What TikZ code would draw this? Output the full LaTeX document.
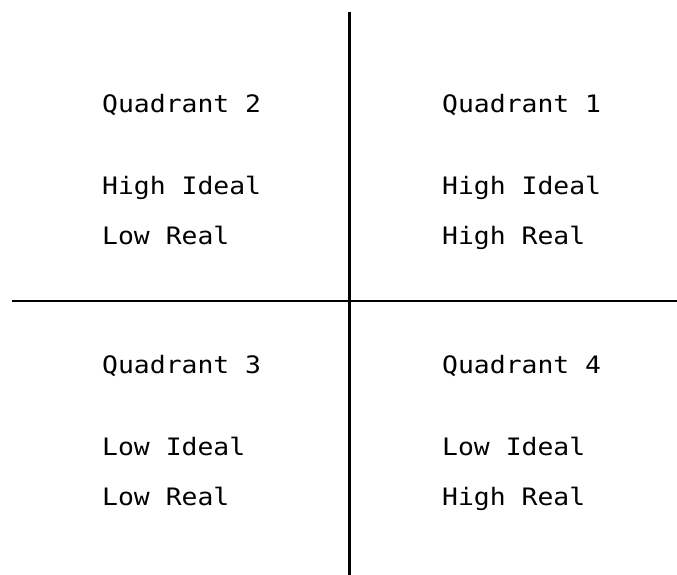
\documentclass[tikz,border=0pt]{standalone}
\usepackage{fontspec}
\newfontfamily\typewriter[FakeStretch=1.1]{DejaVu Sans Mono}

\begin{document}
\begin{tikzpicture}[x=1pt, y=-1pt,
    quadtext/.style={anchor=base west, inner sep=0pt, font=\typewriter\fontsize{24}{29}\selectfont},
    axisline/.style={black, line width=2.2pt}]
  \useasboundingbox (0,0) rectangle (677,575);

  % Axes
  \coordinate (top) at (349,12);
  \coordinate (bottom) at (349,575);
  \coordinate (left) at (12,301);
  \coordinate (right) at (677,301);
  \draw[axisline] (left) -- (right);
  \draw[axisline, line width=3pt] (top) -- (bottom);

  % Upper left
  \node[quadtext] (q2) at (102,113) {Quadrant 2};
  \node[quadtext] (q2ideal) at (102,194) {High Ideal};
  \node[quadtext] (q2real) at (102,244) {Low Real};

  % Upper right
  \node[quadtext] (q1) at (442,113) {Quadrant 1};
  \node[quadtext] (q1ideal) at (442,194) {High Ideal};
  \node[quadtext] (q1real) at (442,244) {High Real};

  % Lower left
  \node[quadtext] (q3) at (102,373) {Quadrant 3};
  \node[quadtext] (q3ideal) at (102,455) {Low Ideal};
  \node[quadtext] (q3real) at (102,505) {Low Real};

  % Lower right
  \node[quadtext] (q4) at (442,373) {Quadrant 4};
  \node[quadtext] (q4ideal) at (442,455) {Low Ideal};
  \node[quadtext] (q4real) at (442,505) {High Real};

\end{tikzpicture}
\end{document}
